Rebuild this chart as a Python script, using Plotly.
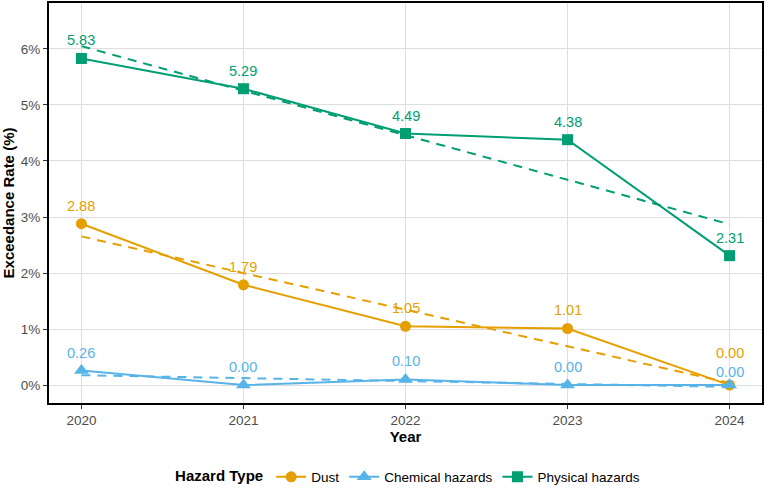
import numpy as np
import plotly.graph_objects as go

years = [2020, 2021, 2022, 2023, 2024]
dust = [2.88, 1.79, 1.05, 1.01, 0.00]
chemical = [0.26, 0.00, 0.10, 0.00, 0.00]
physical = [5.83, 5.29, 4.49, 4.38, 2.31]

series_names = ["Dust", "Chemical hazards", "Physical hazards"]
series_values = [dust, chemical, physical]
colors = ["#E69F00", "#56B4E9", "#009E73"]
symbols = ["circle", "triangle-up", "square"]
marker_sizes = [11, 13, 11]

FONT = "Liberation Sans, Arial, Helvetica, sans-serif"

fig = go.Figure()
x = np.array(years, dtype=float)
for name, vals, col in zip(series_names, series_values, colors):
    y = np.array(vals)
    slope, intercept = np.polyfit(x, y, 1)
    fig.add_trace(go.Scatter(
        x=years, y=list(slope * x + intercept), mode="lines",
        line=dict(color=col, width=2, dash="9px,7px"),
        showlegend=False, hoverinfo="skip"))
for name, vals, col, sym, ms in zip(series_names, series_values, colors, symbols, marker_sizes):
    fig.add_trace(go.Scatter(
        x=years, y=vals, mode="lines+markers", name=name,
        line=dict(color=col, width=2),
        marker=dict(symbol=sym, size=ms, color=col)))

# value labels above points; coincident labels get repelled apart
for i, yr in enumerate(years):
    vals_here = [sv[i] for sv in series_values]
    order = sorted(range(len(series_values)), key=lambda k: (vals_here[k], -k))
    groups = []
    for k in order:
        if groups and abs(vals_here[groups[-1][-1]] - vals_here[k]) < 0.2:
            groups[-1].append(k)
        else:
            groups.append([k])
    for g in groups:
        base = 18 if len(g) == 1 else 13
        for j, k in enumerate(g):
            fig.add_annotation(x=yr, y=vals_here[k], text=f"{vals_here[k]:.2f}", showarrow=False,
                               yshift=base + 19 * j,
                               font=dict(color=colors[k], size=14.5, family=FONT))

fig.update_layout(
    width=767, height=490,
    margin=dict(l=49, r=5, t=3, b=87, autoexpand=False),
    paper_bgcolor="white", plot_bgcolor="white",
    font=dict(family=FONT, color="#4D4D4D", size=13.5),
    showlegend=True,
    legend=dict(orientation="h", x=0.505, xanchor="center",
                yref="container", y=13 / 490, yanchor="middle",
                title=dict(text="<b>Hazard Type</b>", side="left", font=dict(color="black", size=15)),
                font=dict(color="black", size=13.5), itemwidth=30),
    hovermode=False,
)
fig.update_xaxes(
    range=[2019.8, 2024.2], tickvals=years, ticktext=[str(y) for y in years],
    showgrid=True, gridcolor="#DEDEDE", gridwidth=1,
    showline=True, linecolor="black", linewidth=2, mirror=True,
    ticks="outside", ticklen=4, tickcolor="#333333",
    zeroline=False,
    title=dict(text="<b>Year</b>", font=dict(color="black", size=15), standoff=2),
    tickfont=dict(color="#4D4D4D", size=13.5))
fig.update_yaxes(
    range=[-0.32, 6.82], tickvals=[0, 1, 2, 3, 4, 5, 6],
    ticktext=["0%", "1%", "2%", "3%", "4%", "5%", "6%"],
    showgrid=True, gridcolor="#DEDEDE", gridwidth=1,
    showline=True, linecolor="black", linewidth=2, mirror=True,
    ticks="outside", ticklen=4, tickcolor="#333333",
    zeroline=False,
    title=dict(text="<b>Exceedance Rate (%)</b>", font=dict(color="black", size=15), standoff=8),
    tickfont=dict(color="#4D4D4D", size=13.5))

fig.write_html("out.html")
